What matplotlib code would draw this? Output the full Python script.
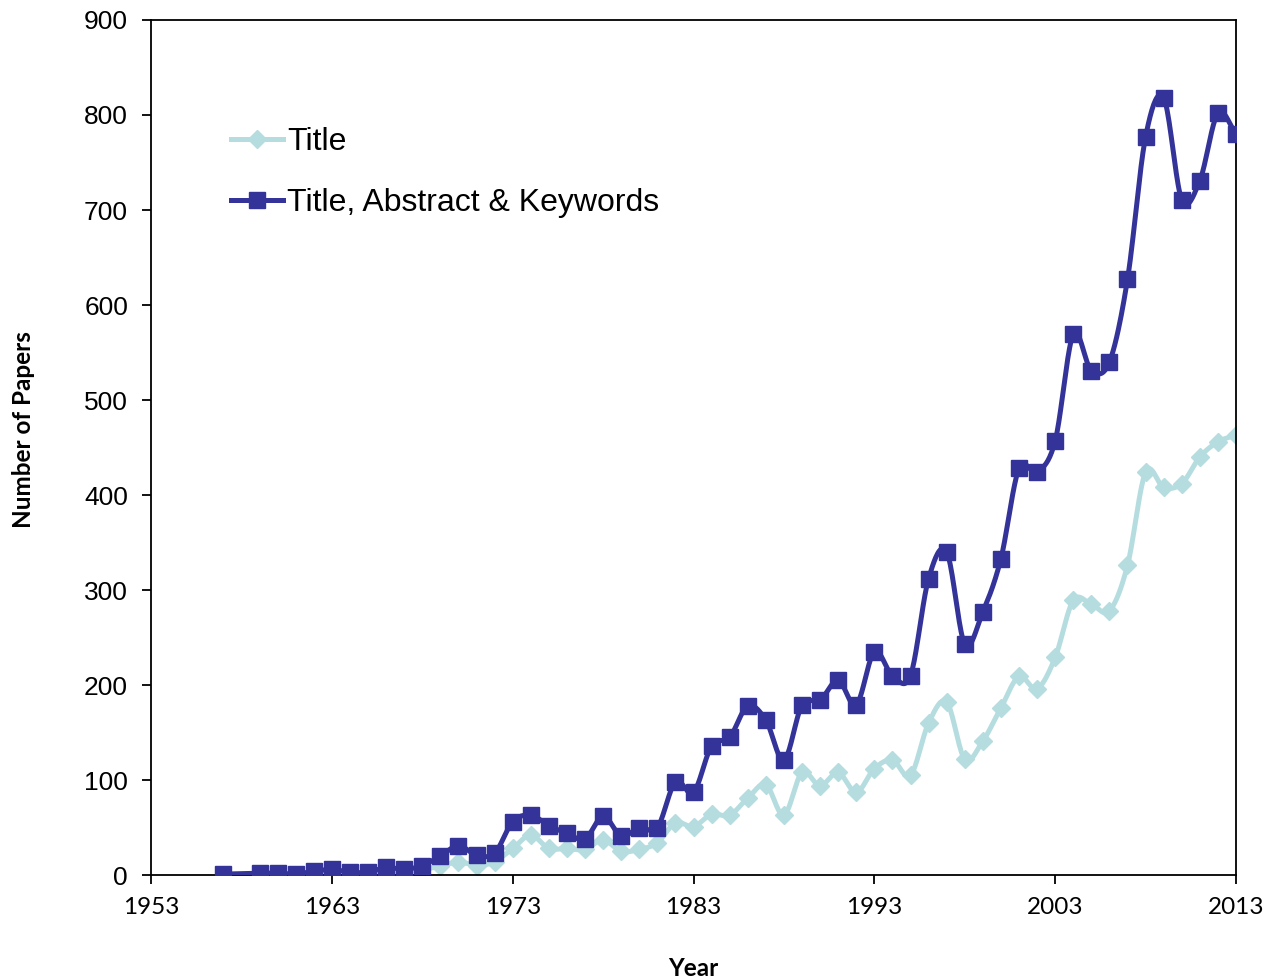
import numpy as np
import matplotlib
matplotlib.use("Agg")
import matplotlib.pyplot as plt

years = [1957, 1959, 1960, 1961, 1962, 1963, 1964, 1965, 1966, 1967,
         1968, 1969, 1970, 1971, 1972, 1973, 1974, 1975, 1976, 1977,
         1978, 1979, 1980, 1981, 1982, 1983, 1984, 1985, 1986, 1987,
         1988, 1989, 1990, 1991, 1992, 1993, 1994, 1995, 1996, 1997,
         1998, 1999, 2000, 2001, 2002, 2003, 2004, 2005, 2006, 2007,
         2008, 2009, 2010, 2011, 2012, 2013]

title_only = [0, 1, 1, 0, 2, 3, 1, 2, 3, 3,
              6, 9, 14, 10, 14, 28, 42, 28, 28, 27,
              37, 25, 27, 34, 55, 51, 64, 63, 81, 95,
              63, 108, 94, 108, 87, 112, 121, 105, 160, 182,
              122, 141, 176, 209, 196, 229, 289, 285, 278, 326,
              424, 408, 412, 440, 456, 463]

title_abs_kw = [1, 2, 2, 1, 4, 6, 3, 3, 8, 6,
                10, 20, 31, 21, 23, 56, 63, 52, 44, 38,
                62, 41, 50, 50, 98, 87, 136, 145, 178, 163,
                121, 179, 184, 205, 179, 235, 210, 210, 312, 340,
                243, 277, 333, 428, 424, 457, 569, 531, 540, 627,
                777, 818, 711, 731, 802, 780]

series_names = ["Title", "Title, Abstract & Keywords"]


def smooth(x, y, n=20):
    # Catmull-Rom style smoothing like a spreadsheet "smoothed line"
    x = np.asarray(x, float)
    y = np.asarray(y, float)
    px = np.concatenate([[2 * x[0] - x[1]], x, [2 * x[-1] - x[-2]]])
    py = np.concatenate([[2 * y[0] - y[1]], y, [2 * y[-1] - y[-2]]])
    xs, ys = [], []
    t = np.linspace(0, 1, n, endpoint=False)
    for i in range(1, len(px) - 2):
        p0, p1, p2, p3 = px[i - 1], px[i], px[i + 1], px[i + 2]
        q0, q1, q2, q3 = py[i - 1], py[i], py[i + 1], py[i + 2]
        c1x, c1y = p1 + (p2 - p0) / 6, q1 + (q2 - q0) / 6
        c2x, c2y = p2 - (p3 - p1) / 6, q2 - (q3 - q1) / 6
        b0 = (1 - t) ** 3
        b1 = 3 * (1 - t) ** 2 * t
        b2 = 3 * (1 - t) * t ** 2
        b3 = t ** 3
        xs.append(b0 * p1 + b1 * c1x + b2 * c2x + b3 * p2)
        ys.append(b0 * q1 + b1 * c1y + b2 * c2y + b3 * q2)
    xs.append([x[-1]])
    ys.append([y[-1]])
    return np.concatenate(xs), np.concatenate(ys)


light = "#b5dde0"
navy = "#333399"
lw = 3.6

fig = plt.figure(figsize=(12.66, 9.8), dpi=100)
ax = fig.add_axes([0.1193, 0.1071, 0.8570, 0.8725])

sx, sy = smooth(years, title_only)
ax.plot(sx, sy, color=light, lw=lw, solid_capstyle="round", zorder=2)
ax.plot(years, title_only, ls="none", marker="D", ms=9.5, color=light, zorder=2)
ax.plot([], [], color=light, lw=lw, marker="D", ms=9.5, label=series_names[0])

sx, sy = smooth(years, title_abs_kw)
ax.plot(sx, sy, color=navy, lw=lw, solid_capstyle="round", zorder=3)
ax.plot(years, title_abs_kw, ls="none", marker="s", ms=11.5, color=navy, zorder=3)
ax.plot([], [], color=navy, lw=lw, marker="s", ms=11.5, label=series_names[1])

ax.set_xlim(1953, 2013)
ax.set_ylim(0, 900)
ax.set_xticks(range(1953, 2014, 10))
ax.set_yticks(range(0, 901, 100))

for s in ax.spines.values():
    s.set_linewidth(1.3)
    s.set_color("black")

ax.tick_params(axis="both", direction="out", length=6.5, width=1.3)
ax.tick_params(axis="x", pad=9)
ax.tick_params(axis="y", pad=10)
for lab in ax.get_xticklabels():
    lab.set_family(["Lato", "DejaVu Sans"])
    lab.set_fontsize(17.5)
for lab in ax.get_yticklabels():
    lab.set_family(["Liberation Sans", "DejaVu Sans"])
    lab.set_fontsize(19)

# axis titles placed in figure coordinates
fig.text(0.5474, 0.012, "Year", ha="center", va="center",
         family=["Lato", "DejaVu Sans"], fontweight="bold", fontsize=17.5)
fig.text(0.0185, 0.5616, "Number of Papers", ha="center", va="center",
         rotation=90, family=["Lato", "DejaVu Sans"], fontweight="bold",
         fontsize=17.5)

leg = ax.legend(loc="upper left", bbox_to_anchor=(0.047, 0.908), frameon=False,
                prop={"family": ["Liberation Sans", "DejaVu Sans"], "size": 23},
                handlelength=1.65, handletextpad=0.12, labelspacing=0.95)

fig.savefig("out.png", dpi=100)
